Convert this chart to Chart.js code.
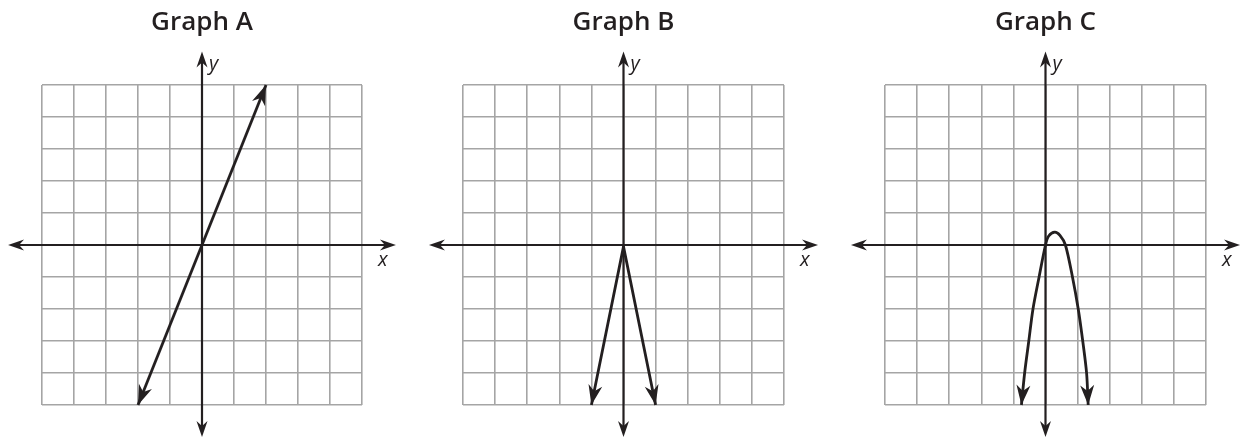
<!DOCTYPE html>
<html><head><meta charset="utf-8">
<script src="https://cdn.jsdelivr.net/npm/chart.js@4.4.0/dist/chart.umd.min.js"></script>
<style>
html,body{margin:0;padding:0;background:#fff;width:1245px;height:438px;overflow:hidden}
.box{position:absolute;top:0;height:438px}
canvas{display:block}
</style></head><body>
<div class="box" style="left:0px;width:405px"><canvas id="cA" width="405" height="438"></canvas></div>
<div class="box" style="left:421px;width:405px"><canvas id="cB" width="405" height="438"></canvas></div>
<div class="box" style="left:843px;width:402px"><canvas id="cC" width="402" height="438"></canvas></div>
<script>
// ---- data ----
const titles = ["Graph A", "Graph B", "Graph C"];
const gridMin = -5, gridMax = 5;
const axisLabels = ["x", "y"];
// Graph A: straight line
const graphA_x = [-2, 2];
const graphA_y = [-5, 5];
// Graph B: V shape opening downward
const graphB_x = [-1, 0, 1];
const graphB_y = [-5, -0.05, -5];
// Graph C: downward parabola-like curve
const graphC_x = [-0.75, -0.65, -0.52, -0.39, -0.2, 0, 0.1, 0.29, 0.45, 0.62, 0.84, 1.02, 1.16, 1.28, 1.33];
const graphC_y = [-5, -4, -3, -2, -1, 0, 0.28, 0.4, 0.3, 0, -1, -2, -3, -4, -5];

// ---- styles ----
const INK = '#231f20';
const GRID = '#a5a5a5';
const FONT = "'Open Sans', 'Liberation Sans', sans-serif";

function arrowHead(ctx, tx, ty, fx, fy, L, W, notch) {
  let dx = tx - fx, dy = ty - fy;
  const len = Math.hypot(dx, dy) || 1;
  dx /= len; dy /= len;
  const nx = -dy, ny = dx;
  ctx.beginPath();
  ctx.moveTo(tx, ty);
  ctx.lineTo(tx - L * dx + W * nx, ty - L * dy + W * ny);
  ctx.lineTo(tx - (L - notch) * dx, ty - (L - notch) * dy);
  ctx.lineTo(tx - L * dx - W * nx, ty - L * dy - W * ny);
  ctx.closePath();
  ctx.fill();
}

const arrowAxes = {
  id: 'arrowAxes',
  beforeDatasetsDraw(chart) {
    const {ctx, scales: {x, y}} = chart;
    const x0 = x.getPixelForValue(0), y0 = y.getPixelForValue(0);
    const xl = x.getPixelForValue(-6.06), xr = x.getPixelForValue(6.06);
    const yt = y.getPixelForValue(6.05), yb = y.getPixelForValue(-6.0);
    ctx.save();
    ctx.strokeStyle = INK; ctx.fillStyle = INK; ctx.lineWidth = 2.2;
    ctx.beginPath();
    ctx.moveTo(xl + 6, y0); ctx.lineTo(xr - 6, y0);
    ctx.moveTo(x0, yt + 6); ctx.lineTo(x0, yb - 6);
    ctx.stroke();
    arrowHead(ctx, xl, y0, x0, y0, 16, 5.5, 5);
    arrowHead(ctx, xr, y0, x0, y0, 16, 5.5, 5);
    arrowHead(ctx, x0, yt, x0, y0, 16, 5.5, 5);
    arrowHead(ctx, x0, yb, x0, y0, 16, 5.5, 5);
    ctx.font = "italic 20px " + FONT;
    ctx.textBaseline = 'alphabetic';
    ctx.textAlign = 'left';
    ctx.fillText(axisLabels[0], x.getPixelForValue(gridMax) + 16, y0 + 21);
    ctx.fillText(axisLabels[1], x0 + 7, y.getPixelForValue(gridMax) - 15);
    ctx.restore();
  },
  afterDatasetsDraw(chart) {
    const {ctx} = chart;
    ctx.save();
    ctx.fillStyle = INK;
    chart.data.datasets.forEach((ds, i) => {
      const pts = chart.getDatasetMeta(i).data;
      const n = pts.length;
      if (n < 2) return;
      arrowHead(ctx, pts[0].x, pts[0].y, pts[1].x, pts[1].y, 20, 7, 6);
      arrowHead(ctx, pts[n-1].x, pts[n-1].y, pts[n-2].x, pts[n-2].y, 20, 7, 6);
    });
    ctx.restore();
  }
};

function makeChart(id, title, xs, ys, pad, curved) {
  const data = xs.map((v, i) => ({x: v, y: ys[i]}));
  const axisCommon = {
    type: 'linear', min: gridMin, max: gridMax,
    ticks: {display: false, stepSize: 1},
    grid: {color: GRID, lineWidth: 1.6, drawTicks: false},
    border: {display: false}
  };
  return new Chart(document.getElementById(id), {
    type: 'scatter',
    data: {datasets: [{
      data, showLine: true, borderColor: INK, borderWidth: 2.8,
      pointRadius: 0, pointHoverRadius: 0, fill: false, clip: false,
      tension: curved ? 0.3 : 0,
      borderJoinStyle: 'round'
    }]},
    options: {
      responsive: false, animation: false, events: [],
      layout: {padding: pad},
      plugins: {
        legend: {display: false}, tooltip: {enabled: false},
        title: {display: true, text: title, color: INK,
          font: {family: FONT, size: 26, weight: '600', lineHeight: 1.2},
          padding: {top: 6.5, bottom: 47.3}}
      },
      scales: {
        x: Object.assign({}, axisCommon, {position: 'bottom', afterFit: s => { s.height = 0; }}),
        y: Object.assign({}, axisCommon, {position: 'left', afterFit: s => { s.width = 0; }})
      }
    },
    plugins: [arrowAxes]
  });
}

makeChart('cA', titles[0], graphA_x, graphA_y, {left: 42, right: 43, top: 0, bottom: 33}, false);
makeChart('cB', titles[1], graphB_x, graphB_y, {left: 42, right: 42, top: 0, bottom: 33}, false);
makeChart('cC', titles[2], graphC_x, graphC_y, {left: 42, right: 39, top: 0, bottom: 33}, true);
</script>
</body></html>
